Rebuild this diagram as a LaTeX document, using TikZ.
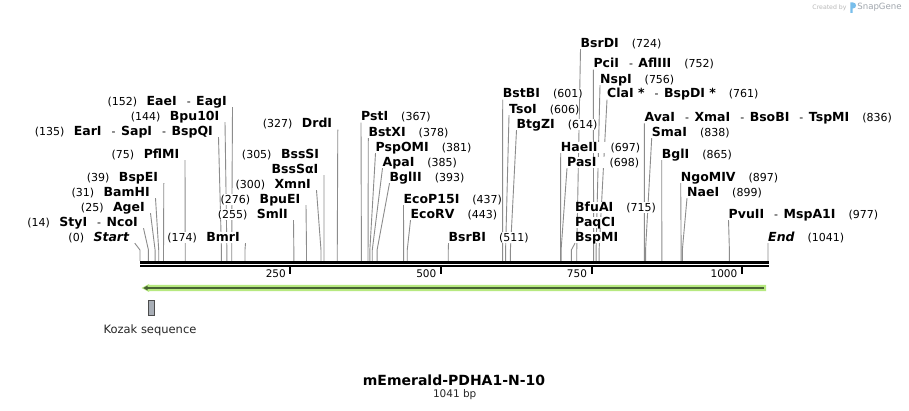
\documentclass[tikz,border=0pt]{standalone}
\usepackage{fontspec}
\setmainfont{DejaVu Sans}
\usetikzlibrary{backgrounds}
\definecolor{cutline}{RGB}{140,140,140}
\definecolor{halo}{RGB}{183,233,128}
\definecolor{orfline}{RGB}{72,98,52}
\definecolor{kozakfill}{RGB}{168,174,182}
\definecolor{credit}{RGB}{185,185,185}
\definecolor{creditb}{RGB}{160,166,173}
\definecolor{snapblue}{RGB}{120,190,235}
\newcommand{\nm}[1]{{\fontsize{12.5}{14}\selectfont\bfseries #1}}
\newcommand{\sepr}{\hspace{10pt}-\hspace{5.5pt}}
\newcommand{\lft}[2]{(#1)\hspace{9.5pt}#2}
\newcommand{\rgt}[2]{#1\hspace{13pt}(#2)}
\newcommand{\bpx}[1]{140+#1*0.60327}
\begin{document}
\begin{tikzpicture}[x=1pt,y=-1pt,
  lab/.style={inner sep=0pt,fill=white,text height=9.5pt,text depth=1.5pt,font=\fontsize{11}{13}\selectfont},
  ll/.style={lab,anchor=base east},
  rl/.style={lab,anchor=base west},
  cut/.style={draw=cutline,line width=0.9pt},
  tick/.style={line width=2pt},
  ticklab/.style={anchor=east,inner sep=0pt,font=\fontsize{10.5}{12}\selectfont}]
\useasboundingbox (0,0) rectangle (909,411);
% cut sites on the sequence
\foreach \p in {0,14,25,31,39,75,135,144,152,174,255,276,300,305,327,367,378,381,385,393,437,443,511,601,606,614,697,698,715,724,752,756,761,836,838,865,897,899,977,1041}
  \coordinate (p\p) at (\bpx{\p},261);

% labels left of their cut
\node[ll] (Start) at (129.3,241.5) {\lft{0}{{\fontsize{12.5}{14}\selectfont\bfseries\itshape Start}}};
\node[ll] (StyI) at (138,226.5) {\lft{14}{\nm{StyI}\sepr\nm{NcoI}}};
\node[ll] (AgeI) at (145,211.5) {\lft{25}{\nm{AgeI}}};
\node[ll] (BamHI) at (150,196.5) {\lft{31}{\nm{BamHI}}};
\node[ll] (BspEI) at (158.3,181.5) {\lft{39}{\nm{BspEI}}};
\node[ll] (PflMI) at (179.5,158.5) {\lft{75}{\nm{PflMI}}};
\node[ll] (EarI) at (213,135.5) {\lft{135}{\nm{EarI}\sepr\nm{SapI}\sepr\nm{BspQI}}};
\node[ll] (Bpu10I) at (219.5,120.5) {\lft{144}{\nm{Bpu10I}}};
\node[ll] (EaeI) at (227,105.5) {\lft{152}{\nm{EaeI}\sepr\nm{EagI}}};
\node[ll] (BmrI) at (240,241.5) {\lft{174}{\nm{BmrI}}};
\node[ll] (SmlI) at (288,218.5) {\lft{255}{\nm{SmlI}}};
\node[ll] (BpuEI) at (300.5,203.5) {\lft{276}{\nm{BpuEI}}};
\node[ll] (XmnI) at (311,188.5) {\lft{300}{\nm{XmnI}}};
\node[ll] (BssSI) at (319.3,158.5) {\lft{305}{\nm{BssSI}}};
\node[ll] (BssSaI) at (318.5,173.5) {\nm{BssSαI}};
\node[ll] (DrdI) at (332.3,128) {\lft{327}{\nm{DrdI}}};

% labels right of their cut
\node[rl] (PstI) at (361,121) {\rgt{\nm{PstI}}{367}};
\node[rl] (BstXI) at (368.3,136.5) {\rgt{\nm{BstXI}}{378}};
\node[rl] (PspOMI) at (375.5,151.5) {\rgt{\nm{PspOMI}}{381}};
\node[rl] (ApaI) at (382.5,166.5) {\rgt{\nm{ApaI}}{385}};
\node[rl] (BglII) at (389.5,181.5) {\rgt{\nm{BglII}}{393}};
\node[rl] (EcoP15I) at (403.5,203.5) {\rgt{\nm{EcoP15I}}{437}};
\node[rl] (EcoRV) at (410.5,218.5) {\rgt{\nm{EcoRV}}{443}};
\node[rl] (BsrBI) at (448.5,241.5) {\rgt{\nm{BsrBI}}{511}};
\node[rl] (BstBI) at (502.7,98) {\rgt{\nm{BstBI}}{601}};
\node[rl] (TsoI) at (509,113.5) {\rgt{\nm{TsoI}}{606}};
\node[rl] (BtgZI) at (516.5,128.5) {\rgt{\nm{BtgZI}}{614}};
\node[rl] (BsrDI) at (580.5,47.5) {\rgt{\nm{BsrDI}}{724}};
\node[rl] (PciI) at (593.3,68) {\rgt{\nm{PciI}\sepr\nm{AflIII}}{752}};
\node[rl] (NspI) at (600,83.5) {\rgt{\nm{NspI}}{756}};
\node[rl] (ClaI) at (607,98) {\rgt{\nm{ClaI *}\sepr\nm{BspDI *}}{761}};
\node[rl] (HaeII) at (560.7,151.5) {\rgt{\nm{HaeII}}{697}};
\node[rl] (PasI) at (567,166.5) {\rgt{\nm{PasI}}{698}};
\node[rl] (BfuAI) at (575,211.5) {\rgt{\nm{BfuAI}}{715}};
\node[rl] (PaqCI) at (575,226.5) {\nm{PaqCI}};
\node[rl] (BspMI) at (575,241.5) {\nm{BspMI}};
\node[rl] (AvaI) at (644.4,121.8) {\rgt{\nm{AvaI}\sepr\nm{XmaI}\sepr\nm{BsoBI}\sepr\nm{TspMI}}{836}};
\node[rl] (SmaI) at (651.7,136.5) {\rgt{\nm{SmaI}}{838}};
\node[rl] (BglI) at (661.7,158.5) {\rgt{\nm{BglI}}{865}};
\node[rl] (NgoMIV) at (680.7,181.5) {\rgt{\nm{NgoMIV}}{897}};
\node[rl] (NaeI) at (687,196.5) {\rgt{\nm{NaeI}}{899}};
\node[rl] (PvuII) at (728.5,218.5) {\rgt{\nm{PvuII}\sepr\nm{MspA1I}}{977}};
\node[rl] (End) at (768,241.5) {\rgt{{\fontsize{12.5}{14}\selectfont\bfseries\itshape End}}{1041}};

\begin{pgfonlayer}{background}
\fill[white] (0,0) rectangle (909,411);
\foreach \s/\n in {0/Start,14/StyI,25/AgeI,31/BamHI,39/BspEI,75/PflMI,135/EarI,144/Bpu10I,152/EaeI,174/BmrI,255/SmlI,276/BpuEI,300/XmnI,305/BssSaI,327/DrdI}
  \draw[cut] (p\s) -- ++(0,-11) -- ([xshift=5.5pt]\n.south east);
\foreach \s/\n in {367/PstI,378/BstXI,381/PspOMI,385/ApaI,393/BglII,437/EcoP15I,443/EcoRV,511/BsrBI,601/BstBI,606/TsoI,614/BtgZI,697/HaeII,698/PasI,715/BspMI,724/BsrDI,752/PciI,756/NspI,761/ClaI,836/AvaI,838/SmaI,865/BglI,897/NgoMIV,899/NaeI,977/PvuII,1041/End}
  \draw[cut] (p\s) -- ++(0,-11) -- (\n.south west);
\end{pgfonlayer}

% sequence
\draw[line width=2.7pt] (140,262.3) -- (768.5,262.3);
\draw[line width=2.3pt] (140,266.2) -- (768.5,266.2);
\draw[tick] (290.3,267) -- (290.3,274.3);
\draw[tick] (440.8,267) -- (440.8,274.3);
\draw[tick] (591.5,267) -- (591.5,274.3);
\draw[tick] (741.5,267) -- (741.5,274.3);
\node[ticklab] (t250) at (286,273.5) {250};
\node[ticklab] (t500) at (436.5,273.5) {500};
\node[ticklab] (t750) at (587.2,273.5) {750};
\node[ticklab] (t1000) at (737.5,273.5) {1000};

% feature arrow
\fill[halo] (766,285) -- (149,285) -- (149,284) -- (141.5,288) -- (149,292) -- (149,291) -- (766,291) -- cycle;
\draw[orfline,line width=2pt] (764,288) -- (146,288);
\fill[orfline] (147.5,285.6) -- (143.3,288) -- (147.5,290.4) -- cycle;

% Kozak
\node[draw=black!70,fill=kozakfill,line width=0.8pt,minimum width=5.5pt,minimum height=15pt,inner sep=0pt] (kozak) at (151.3,308.3) {};
\node[inner sep=0pt,text=black!85,font=\fontsize{11.5}{13}\selectfont] (kozaklab) at (150,330) {Kozak sequence};

% title
\node[inner sep=0pt,font=\fontsize{14}{16}\selectfont\bfseries] (title) at (454,380.5) {mEmerald-PDHA1-N-10};
\node[inner sep=0pt,text=black!85,font=\fontsize{10.5}{12}\selectfont] (length) at (454.7,394.5) {1041 bp};

% credit
\node[inner sep=0pt,text=credit,font=\fontsize{6.2}{7}\selectfont] (created) at (829.5,7.5) {Created by};
\fill[snapblue] (850.3,13) -- (850.3,2.5) -- (853,2.5) .. controls (857,2.5) and (857,8.5) .. (853,8.5) -- (852.6,8.5) -- (852.6,13) -- cycle;
\node[inner sep=0pt,text=creditb,font=\fontsize{8.6}{10}\selectfont] (snapgene) at (879.5,7.5) {SnapGene};
\end{tikzpicture}
\end{document}
